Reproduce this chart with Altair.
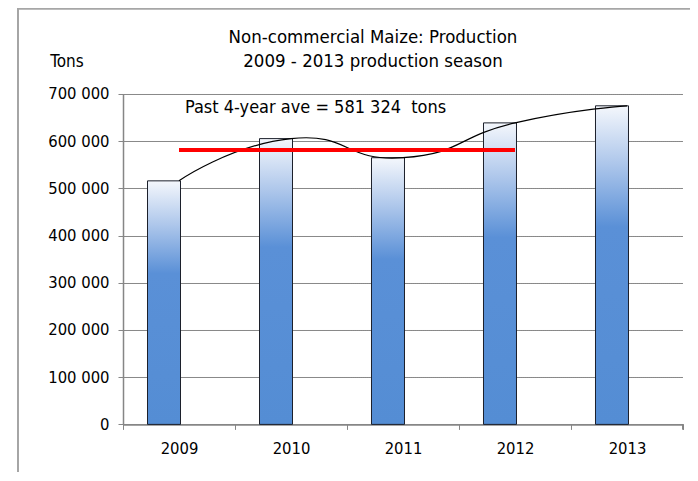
import altair as alt
import pandas as pd

years = ["2009", "2010", "2011", "2012", "2013"]
production = [516000, 605500, 565000, 638800, 675000]
avg_years = ["2009", "2012"]
avg_value = 581324
y_ticks = [0, 100000, 200000, 300000, 400000, 500000, 600000, 700000]
annotation = "Past 4-year ave = 581 324\u00a0 tons"
title_lines = ["Non-commercial Maize: Production", "2009 - 2013 production season"]
y_unit = "Tons"

FONT = "DejaVu Sans Condensed"

df = pd.DataFrame({"year": years, "value": production})
avg_df = pd.DataFrame({"year": avg_years, "value": [avg_value] * len(avg_years)})
ann_df = pd.DataFrame({"year": [years[0]], "value": [671000], "label": [annotation]})
unit_df = pd.DataFrame({"label": [y_unit]})
title_df = pd.DataFrame({"label": ["\n".join(title_lines)]})

W, H = 560, 330.4

x_enc = alt.X("year:N", title=None, sort=years,
              scale=alt.Scale(paddingInner=0, paddingOuter=0),
              axis=alt.Axis(labelAngle=0, tickBand="extent", labelPadding=11))
y_scale = alt.Scale(domain=[0, 700000], nice=False)
y_enc = alt.Y("value:Q", scale=y_scale, title=None,
              axis=alt.Axis(values=y_ticks,
                            labelExpr="replace(format(datum.value, ','), ',', ' ')",
                            labelPadding=9, grid=True))

grad = alt.LinearGradient(
    gradient="linear", x1=0, x2=0, y1=0, y2=1,
    stops=[alt.GradientStop(color="#f4f7fc", offset=0),
           alt.GradientStop(color="#aec7eb", offset=0.18),
           alt.GradientStop(color="#5a90d7", offset=0.38),
           alt.GradientStop(color="#548dd4", offset=1)])

bars = alt.Chart(df).mark_bar(color=grad, width=33, xOffset=-15,
                              stroke="#1b1f2a", strokeWidth=1).encode(x=x_enc, y=y_enc)

curve = alt.Chart(df).mark_line(color="#000", strokeWidth=1.2,
                                interpolate="cardinal", tension=-0.6).encode(
    x=alt.X("year:N", sort=years), y=alt.Y("value:Q", scale=y_scale))

avg_line = alt.Chart(avg_df).mark_line(color="#ff0000", strokeWidth=4).encode(
    x=alt.X("year:N", sort=years), y=alt.Y("value:Q", scale=y_scale))

ann = alt.Chart(ann_df).mark_text(align="left", baseline="middle", dx=6,
                                  font=FONT, fontSize=18, color="#000").encode(
    x=alt.X("year:N", sort=years), y=alt.Y("value:Q", scale=y_scale), text="label:N")

unit = alt.Chart(unit_df).mark_text(align="center", baseline="middle",
                                    font=FONT, fontSize=17, color="#000").encode(
    x=alt.value(-56), y=alt.value(-32), text="label:N")

title = alt.Chart(title_df).mark_text(align="center", baseline="middle", lineBreak="\n",
                                      lineHeight=24, font=FONT, fontSize=18.5,
                                      color="#000").encode(
    x=alt.value(W / 2 - 30), y=alt.value(-57), text="label:N")

last_tick = alt.Chart(df).mark_rule(color="#868686").encode(
    x=alt.value(W), y=alt.value(H), y2=alt.value(H + 5))

frame_left = alt.Chart(df).mark_rule(color="#a6a6a6", strokeWidth=1.5).encode(
    x=alt.value(-105), y=alt.value(-86), y2=alt.value(400))
frame_top = alt.Chart(df).mark_rule(color="#a6a6a6", strokeWidth=1.5).encode(
    x=alt.value(-105), x2=alt.value(600), y=alt.value(-85.5))

chart = alt.layer(frame_left, frame_top, bars, curve, avg_line, ann, unit, title,
                  last_tick).properties(
    width=W, height=H,
    autosize=alt.AutoSizeParams(type="none"),
    padding={"left": 115, "top": 86, "right": 7, "bottom": 48},
).configure_view(stroke=None).configure_axis(
    labelFont=FONT, labelFontSize=16.5, labelColor="#000",
    tickSize=5, tickColor="#868686", domainColor="#868686", domainWidth=1.5,
).configure_axisY(
    grid=True, gridColor="#111", gridDash=[1, 1], gridWidth=1,
).configure_axisX(grid=False)

chart.save("out.html", embed_options={"renderer": "svg", "actions": False})
